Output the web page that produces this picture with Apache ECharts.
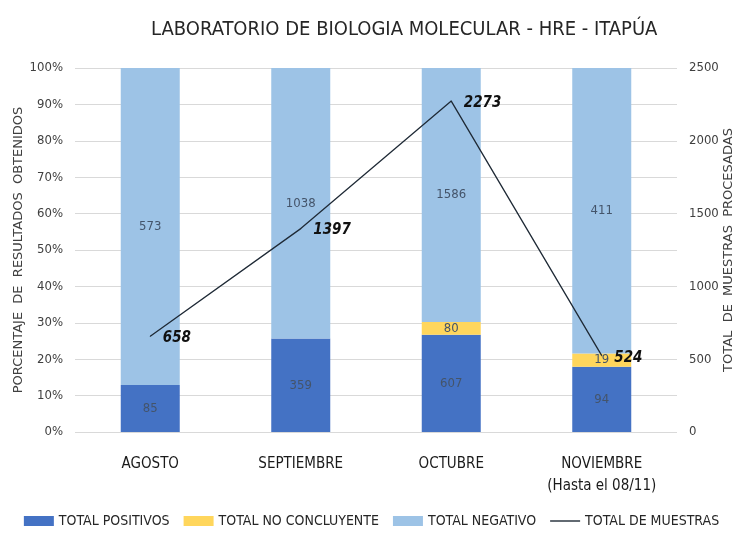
<!DOCTYPE html>
<html>
<head>
<meta charset="utf-8">
<script src="https://cdn.jsdelivr.net/npm/echarts@6/dist/echarts.min.js"></script>
<style>
  html, body { margin: 0; padding: 0; background: #fff; }
  #chart { width: 743px; height: 535px; }
</style>
</head>
<body>
<div id="chart"></div>
<script>
var months = ['AGOSTO', 'SEPTIEMBRE', 'OCTUBRE', 'NOVIEMBRE\n(Hasta el 08/11)'];
var positivos = [85, 359, 607, 94];
var noConcluyente = [0, 0, 80, 19];
var negativos = [573, 1038, 1586, 411];
var totalMuestras = [658, 1397, 2273, 524];
var pctTicks = [0, 100, 10];
var countTicks = [0, 2500, 500];

var narrow = '"Liberation Sans Narrow", "DejaVu Sans Condensed", sans-serif';

function toPct(arr) {
    return arr.map(function (v, i) { return v / totalMuestras[i] * 100; });
}

function barSeries(name, counts, color) {
    return {
        name: name,
        type: 'bar',
        stack: 'res',
        barWidth: 59,
        data: toPct(counts),
        itemStyle: { color: color },
        label: {
            show: true,
            position: 'inside',
            color: '#44546a',
            fontFamily: narrow,
            fontSize: 13,
            formatter: function (p) {
                var v = counts[p.dataIndex];
                return v ? String(v) : '';
            }
        }
    };
}

var chartDom = document.getElementById('chart');
var myChart = echarts.init(chartDom);
var option;

option = {
    animation: false,
    title: {
        text: 'LABORATORIO DE BIOLOGIA MOLECULAR - HRE - ITAPÚA',
        left: 146,
        top: 15,
        textStyle: { fontFamily: narrow, fontWeight: 'normal', fontSize: 20, color: '#262626' }
    },
    grid: { left: 75, right: 66, top: 68, bottom: 103, outerBoundsMode: 'none' },
    legend: {
        bottom: 2,
        left: 'center',
        itemWidth: 30,
        itemHeight: 10,
        itemGap: 14,
        textStyle: { fontFamily: narrow, fontSize: 14, color: '#262626' },
        data: [
            { name: 'TOTAL POSITIVOS', icon: 'rect' },
            { name: 'TOTAL NO CONCLUYENTE', icon: 'rect' },
            { name: 'TOTAL NEGATIVO', icon: 'rect' },
            { name: 'TOTAL DE MUESTRAS', icon: 'path://M0,0 L30,0 L30,1.4 L0,1.4 Z' }
        ]
    },
    xAxis: {
        type: 'category',
        data: months,
        axisLine: { show: false },
        axisTick: { show: false },
        axisLabel: {
            margin: 21,
            fontFamily: narrow,
            fontSize: 15,
            color: '#1a1a1a',
            lineHeight: 22
        }
    },
    yAxis: [
        {
            type: 'value',
            min: pctTicks[0],
            max: pctTicks[1],
            interval: pctTicks[2],
            name: 'PORCENTAJE  DE  RESULTADOS  OBTENIDOS',
            nameLocation: 'middle',
            nameGap: 50,
            nameMoveOverlap: false,
            nameTextStyle: { fontFamily: '"DejaVu Sans", sans-serif', fontSize: 13, color: '#404040' },
            axisLabel: { formatter: '{value}%', fontFamily: narrow, fontSize: 13, color: '#404040', margin: 12 },
            splitLine: { lineStyle: { color: '#d9d9d9' } }
        },
        {
            type: 'value',
            min: countTicks[0],
            max: countTicks[1],
            interval: countTicks[2],
            name: 'TOTAL  DE  MUESTRAS  PROCESADAS',
            nameLocation: 'middle',
            nameGap: 45,
            nameRotate: 90,
            nameMoveOverlap: false,
            nameTextStyle: { fontFamily: '"DejaVu Sans", sans-serif', fontSize: 13, color: '#404040' },
            axisLabel: {
                fontFamily: narrow, fontSize: 13, color: '#404040', margin: 12,
                formatter: function (v) { return String(v); }
            },
            splitLine: { show: false }
        }
    ],
    series: [
        barSeries('TOTAL POSITIVOS', positivos, '#4472c4'),
        barSeries('TOTAL NO CONCLUYENTE', noConcluyente, '#ffd65c'),
        barSeries('TOTAL NEGATIVO', negativos, '#9dc3e6'),
        {
            name: 'TOTAL DE MUESTRAS',
            type: 'line',
            yAxisIndex: 1,
            data: totalMuestras,
            symbol: 'circle',
            symbolSize: 1,
            showSymbol: true,
            lineStyle: { color: '#1f2a36', width: 1.3 },
            itemStyle: { color: '#1f2a36' },
            label: {
                show: true,
                position: 'right',
                distance: 12,
                offset: [0, 2],
                fontFamily: narrow,
                fontSize: 15,
                fontWeight: 'bold',
                fontStyle: 'italic',
                color: '#111'
            }
        }
    ]
};

option && myChart.setOption(option);
</script>
</body>
</html>
